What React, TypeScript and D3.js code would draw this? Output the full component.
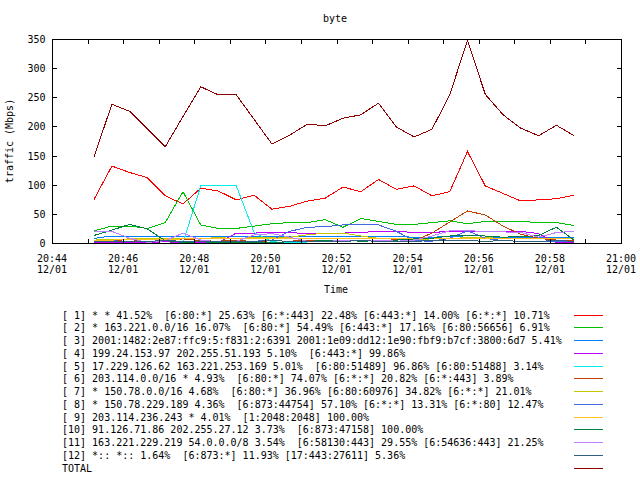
import React from "react";
import * as d3 from "d3";

const START = new Date(2000, 11, 1, 20, 45, 11);
const STEP_SEC = 30;

const total = [148, 238, 226, 196, 165, 217, 268, 254, 254, 212, 170, 185, 204, 201, 214, 220, 240, 199, 182, 195, 254, 348, 255, 220, 197, 184, 202, 184];
const s1 = [75, 132, 121, 112, 81, 67, 94, 89, 74, 82, 58, 63, 72, 77, 96, 88, 109, 92, 98, 81, 88, 157, 98, 85, 72, 74, 76, 82];
const s2 = [21, 29, 29, 25, 35, 88, 31, 25, 25, 29, 33, 35, 35, 40, 27, 42, 37, 32, 32, 35, 38, 33, 37, 37, 37, 35, 35, 30];
const s3 = [8, 12, 12, 12, 12, 12, 12, 12, 12, 12, 12, 12, 12, 12, 12, 12, 11, 11, 10, 10, 11, 10, 10, 10, 10, 10, 10, 10];
const s4 = [1, 1, 0, 1, 2, 1, 0, 1, 17, 17, 18, 18, 16, 17, 17, 18, 20, 20, 18, 18, 20, 20, 20, 20, 20, 16, 1, 1];
const s5 = [0, 0, 0, 0, 0, 0, 98, 98, 98, 18, 2, 1, 0, 0, 0, 0, 0, 0, 0, 0, 0, 0, 0, 0, 0, 0, 0, 0];
const s6 = [3, 4, 6, 2, 5, 7, 4, 3, 5, 2, 4, 3, 5, 3, 4, 5, 3, 6, 4, 17, 36, 55, 48, 29, 15, 8, 5, 4];
const s7 = [5, 6, 7, 8, 7, 8, 8, 9, 8, 9, 10, 10, 14, 17, 17, 12, 8, 7, 6, 7, 8, 9, 9, 8, 7, 8, 8, 8];
const s8 = [3, 4, 2, 3, 4, 2, 3, 2, 3, 3, 5, 20, 27, 28, 31, 31, 31, 20, 4, 3, 8, 21, 8, 4, 3, 3, 3, 2];
const s9 = [4, 5, 6, 6, 6, 7, 7, 7, 7, 7, 7, 7, 7, 7, 7, 7, 7, 8, 8, 8, 8, 8, 8, 8, 8, 8, 8, 8];
const s10 = [13, 22, 32, 24, 4, 1, 2, 1, 1, 0, 1, 2, 3, 4, 5, 3, 4, 5, 7, 8, 12, 13, 12, 10, 11, 13, 27, 5];
const s11 = [19, 20, 8, 1, 4, 17, 5, 2, 3, 14, 16, 10, 3, 3, 4, 5, 5, 3, 5, 12, 21, 21, 20, 19, 18, 10, 18, 20];
const s12 = [2, 3, 2, 3, 4, 3, 2, 3, 2, 3, 4, 3, 2, 3, 3, 4, 3, 2, 3, 4, 5, 4, 3, 4, 3, 3, 4, 3];

const seriesValues = [s1, s2, s3, s4, s5, s6, s7, s8, s9, s10, s11, s12, total];

const seriesLabels = [
  "[ 1] * * 41.52%  [6:80:*] 25.63% [6:*:443] 22.48% [6:443:*] 14.00% [6:*:*] 10.71%",
  "[ 2] * 163.221.0.0/16 16.07%  [6:80:*] 54.49% [6:443:*] 17.16% [6:80:56656] 6.91%",
  "[ 3] 2001:1482:2e87:ffc9:5:f831:2:6391 2001:1e09:dd12:1e90:fbf9:b7cf:3800:6d7 5.41%",
  "[ 4] 199.24.153.97 202.255.51.193 5.10%  [6:443:*] 99.86%",
  "[ 5] 17.229.126.62 163.221.253.169 5.01%  [6:80:51489] 96.86% [6:80:51488] 3.14%",
  "[ 6] 203.114.0.0/16 * 4.93%  [6:80:*] 74.07% [6:*:*] 20.82% [6:*:443] 3.89%",
  "[ 7] * 150.78.0.0/16 4.68%  [6:80:*] 36.96% [6:80:60976] 34.82% [6:*:*] 21.01%",
  "[ 8] * 150.78.229.189 4.36%  [6:873:44754] 57.10% [6:*:*] 13.31% [6:*:80] 12.47%",
  "[ 9] 203.114.236.243 * 4.01%  [1:2048:2048] 100.00%",
  "[10] 91.126.71.86 202.255.27.12 3.73%  [6:873:47158] 100.00%",
  "[11] 163.221.229.219 54.0.0.0/8 3.54%  [6:58130:443] 29.55% [6:54636:443] 21.25%",
  "[12] *:: *:: 1.64%  [6:873:*] 11.93% [17:443:27611] 5.36%",
  "TOTAL",
];

const seriesColors = ["#ff0000", "#00c000", "#0080ff", "#c000ff", "#00eeee", "#c04000", "#c8c800", "#4169e1", "#ffc020", "#008040", "#c080ff", "#306080", "#8b0000"];

const yTicks = [0, 50, 100, 150, 200, 250, 300, 350];

const FONT = "'DejaVu Sans Mono', monospace";

export default function App() {
  const W = 640, H = 480;
  const left = 52, right = 621, top = 39, bottom = 243;
  const x = d3.scaleTime()
    .domain([new Date(2000, 11, 1, 20, 44), new Date(2000, 11, 1, 21, 0)])
    .range([left, right]);
  const y = d3.scaleLinear().domain([0, 350]).range([bottom, top]);
  const times = total.map((_, i) => new Date(START.getTime() + i * STEP_SEC * 1000));
  const line = d3.line<number>().x((_, i) => x(times[i])).y((d) => y(d));
  const majorTicks = x.ticks(d3.timeMinute.every(2)!);
  const minorTicks = x.ticks(d3.timeMinute.every(1)!);
  const fmtT = d3.timeFormat("%H:%M");
  const fmtD = d3.timeFormat("%m/%d");

  return (
    <svg width={W} height={H} style={{ position: "fixed", left: 0, top: 0, background: "#fff" }} fontFamily={FONT} fontSize={10}>
      <rect x={0} y={0} width={W} height={H} fill="#fff" />
      <text x={335} y={21.5} textAnchor="middle" fill="#000">byte</text>
      {/* data lines */}
      <g fill="none" strokeWidth={1} shapeRendering="crispEdges">
        {seriesValues.map((vals, k) => (
          <path key={k} d={line(vals) || ""} stroke={seriesColors[k]} />
        ))}
      </g>
      {/* border */}
      <g stroke="#000" strokeWidth={1} shapeRendering="crispEdges" fill="none">
        <rect x={left + 0.5} y={top + 0.5} width={right - left} height={bottom - top} />
        {minorTicks.map((t, i) => (
          <g key={i}>
            <line x1={Math.round(x(t)) + 0.5} x2={Math.round(x(t)) + 0.5} y1={bottom + 0.5} y2={bottom - 4} />
            <line x1={Math.round(x(t)) + 0.5} x2={Math.round(x(t)) + 0.5} y1={top + 0.5} y2={top + 5} />
          </g>
        ))}
        {yTicks.map((v, i) => (
          <g key={i}>
            <line x1={left + 0.5} x2={left + 5} y1={Math.round(y(v)) + 0.5} y2={Math.round(y(v)) + 0.5} />
            <line x1={right + 0.5} x2={right - 4} y1={Math.round(y(v)) + 0.5} y2={Math.round(y(v)) + 0.5} />
          </g>
        ))}
      </g>
      {/* y tick labels */}
      {yTicks.map((v, i) => (
        <text key={i} x={45.5} y={y(v) + 4} textAnchor="end" fill="#000">{v}</text>
      ))}
      {/* x tick labels */}
      {majorTicks.map((t, i) => (
        <g key={i}>
          <text x={x(t)} y={261.5} textAnchor="middle" fill="#000">{fmtT(t)}</text>
          <text x={x(t)} y={273} textAnchor="middle" fill="#000">{fmtD(t)}</text>
        </g>
      ))}
      <text x={336} y={292.5} textAnchor="middle" fill="#000">Time</text>
      <text transform="translate(13,141) rotate(-90)" textAnchor="middle" fill="#000">traffic (Mbps)</text>
      {/* legend */}
      {seriesLabels.map((lab, k) => {
        const by = 318.5 + 12.75 * k;
        return (
          <g key={k}>
            <text x={62} y={by} fill="#000" style={{ whiteSpace: "pre" }}>{lab}</text>
            <line x1={574} x2={603} y1={Math.round(by - 4) + 0.5} y2={Math.round(by - 4) + 0.5} stroke={seriesColors[k]} strokeWidth={1} shapeRendering="crispEdges" />
          </g>
        );
      })}
    </svg>
  );
}
